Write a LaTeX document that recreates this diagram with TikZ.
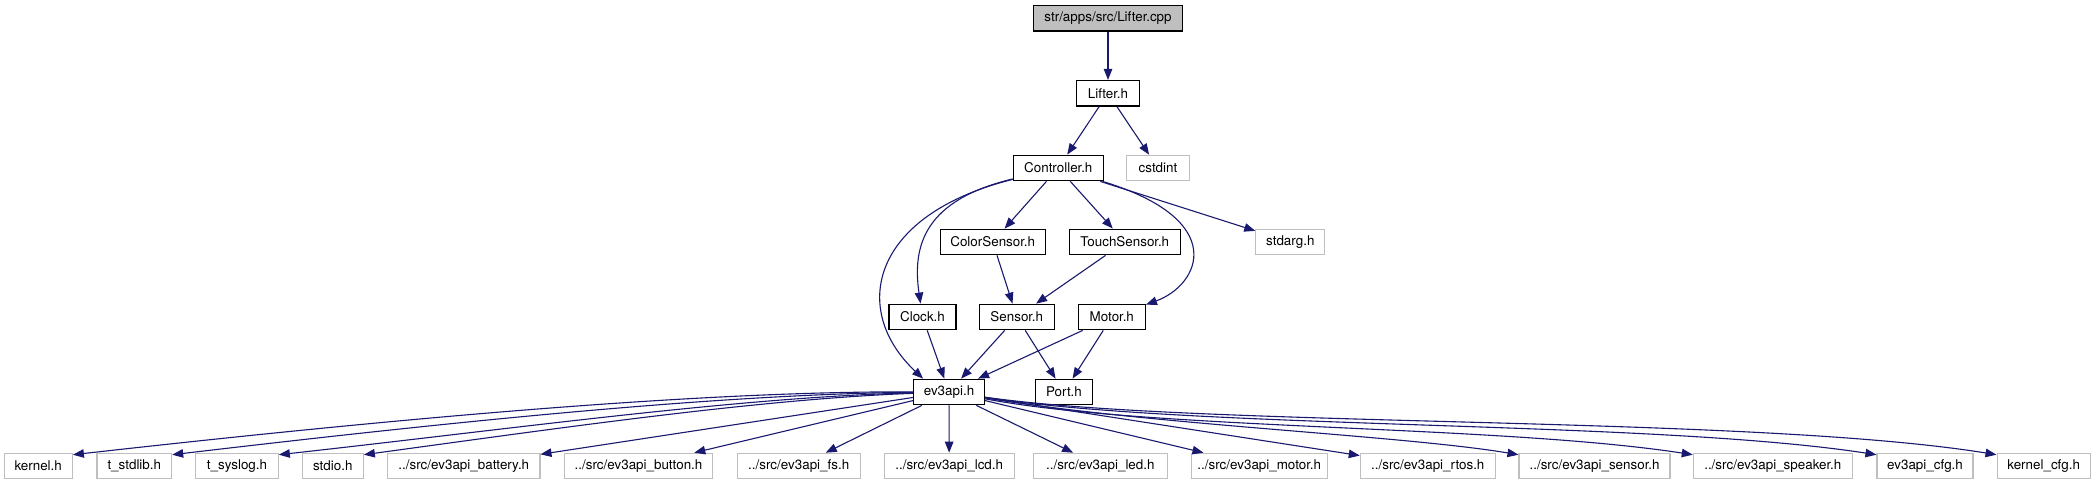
\documentclass[tikz,border=0pt]{standalone}
\usepackage{fontspec}
\setmainfont{TeX Gyre Heros}
\usetikzlibrary{arrows.meta,calc}
\definecolor{edgeblue}{RGB}{25,25,112}
\definecolor{extgray}{RGB}{191,191,191}
\tikzset{
  base/.style={rectangle, inner sep=0pt, minimum height=25.5pt, font=\fontsize{13.4}{16}\selectfont, text=black},
  docbox/.style={base, draw=black, line width=1.3pt, fill=white},
  extbox/.style={base, draw=extgray, line width=1.1pt, fill=white},
  rootbox/.style={base, draw=black, line width=1.3pt, fill=extgray},
  dep/.style={draw=edgeblue, line width=1.1pt, -{Triangle[length=11pt,width=8.5pt]}, edgeblue}
}
\begin{document}
\begin{tikzpicture}[x=1pt,y=-1pt]
\useasboundingbox[fill=white] (0,0) rectangle (2096,485);
% nodes
\node[rootbox, minimum width=149pt] (root) at (1108,18.3) {str/apps/src/Lifter.cpp};
\node[docbox, minimum width=62.6pt] (lifterh) at (1108,93.3) {Lifter.h};
\node[docbox, minimum width=90pt] (ctrl) at (1058.3,168) {Controller.h};
\node[extbox, minimum width=62.7pt] (cstdint) at (1158,168) {cstdint};
\node[docbox, minimum width=105pt] (color) at (992.7,242) {ColorSensor.h};
\node[docbox, minimum width=111pt] (touch) at (1124.8,242) {TouchSensor.h};
\node[extbox, minimum width=69pt] (stdarg) at (1290.3,242) {stdarg.h};
\node[docbox, minimum width=67pt] (clock) at (922.5,317) {Clock.h};
\node[docbox, minimum width=75pt] (sensor) at (1016.8,317) {Sensor.h};
\node[docbox, minimum width=67pt] (motorh) at (1111.8,317) {Motor.h};
\node[docbox, minimum width=70.6pt] (ev) at (949,392) {ev3api.h};
\node[docbox, minimum width=57.3pt] (port) at (1064,392) {Port.h};
\node[extbox, minimum width=68.3pt] (kernel) at (38.2,466) {kernel.h};
\node[extbox, minimum width=74.7pt] (tstd) at (134.3,466) {t\_stdlib.h};
\node[extbox, minimum width=82.6pt] (tsys) at (237,466) {t\_syslog.h};
\node[extbox, minimum width=61pt] (stdio) at (332.8,466) {stdio.h};
\node[extbox, minimum width=152.3pt] (batt) at (463.8,466) {../src/ev3api\_battery.h};
\node[extbox, minimum width=148.4pt] (button) at (638.5,466) {../src/ev3api\_button.h};
\node[extbox, minimum width=122.7pt] (fs) at (798.7,466) {../src/ev3api\_fs.h};
\node[extbox, minimum width=129.7pt] (lcd) at (949.2,466) {../src/ev3api\_lcd.h};
\node[extbox, minimum width=134pt] (led) at (1100.3,466) {../src/ev3api\_led.h};
\node[extbox, minimum width=136.3pt] (amotor) at (1259.2,466) {../src/ev3api\_motor.h};
\node[extbox, minimum width=135pt] (rtos) at (1427.8,466) {../src/ev3api\_rtos.h};
\node[extbox, minimum width=151pt] (asensor) at (1594.5,466) {../src/ev3api\_sensor.h};
\node[extbox, minimum width=159pt] (speaker) at (1772.8,466) {../src/ev3api\_speaker.h};
\node[extbox, minimum width=96pt] (cfg) at (1925,466) {ev3api\_cfg.h};
\node[extbox, minimum width=93.3pt] (kcfg) at (2043.7,466) {kernel\_cfg.h};
% upper edges
\draw[dep] (root) -- (lifterh);
\draw[dep] (lifterh) -- (ctrl);
\draw[dep] (lifterh) -- (cstdint);
\draw[dep] (ctrl) -- (color);
\draw[dep] (ctrl) -- (touch);
\draw[dep] (ctrl) -- (stdarg);
\draw[dep] (ctrl) .. controls (1230,220) and (1200,285) .. (motorh);
\draw[dep] (ctrl) .. controls (925,200) and (912,245) .. (clock);
\draw[dep] (ctrl) .. controls (870,215) and (850,310) .. ($(ev.north west)+(10,0)$);
\draw[dep] (color) -- (sensor);
\draw[dep] (touch) -- (sensor);
\draw[dep] (clock) -- (ev);
\draw[dep] (sensor) -- (ev);
\draw[dep] (sensor) -- (port);
\draw[dep] (motorh) -- (ev);
\draw[dep] (motorh) -- (port);
% lower edges, left
\draw[dep] (ev) .. controls (700,391) and (400,418) .. ($(kernel.north east)+(0,2)$);
\draw[dep] (ev) .. controls (720,394) and (450,422) .. ($(tstd.north east)+(0,2)$);
\draw[dep] (ev) .. controls (740,397) and (520,428) .. ($(tsys.north east)+(0,2)$);
\draw[dep] (ev) .. controls (760,399) and (560,428) .. ($(stdio.north east)+(0,2)$);
\draw[dep] (ev) -- (batt);
\draw[dep] (ev) -- (button);
\draw[dep] (ev) -- (fs);
\draw[dep] (ev) -- (lcd);
\draw[dep] (ev) -- (led);
\draw[dep] (ev) -- (amotor);
\draw[dep] (ev) -- (rtos);
% lower edges, right
\draw[dep] (ev) .. controls (1150,425) and (1400,435) .. ($(asensor.north west)+(0,2)$);
\draw[dep] (ev) .. controls (1150,430) and (1500,425) .. ($(speaker.north west)+(0,2)$);
\draw[dep] (ev) .. controls (1200,430) and (1650,420) .. ($(cfg.north west)+(0,2)$);
\draw[dep] (ev) .. controls (1200,428) and (1750,415) .. ($(kcfg.north west)+(0,2)$);
\end{tikzpicture}
\end{document}
